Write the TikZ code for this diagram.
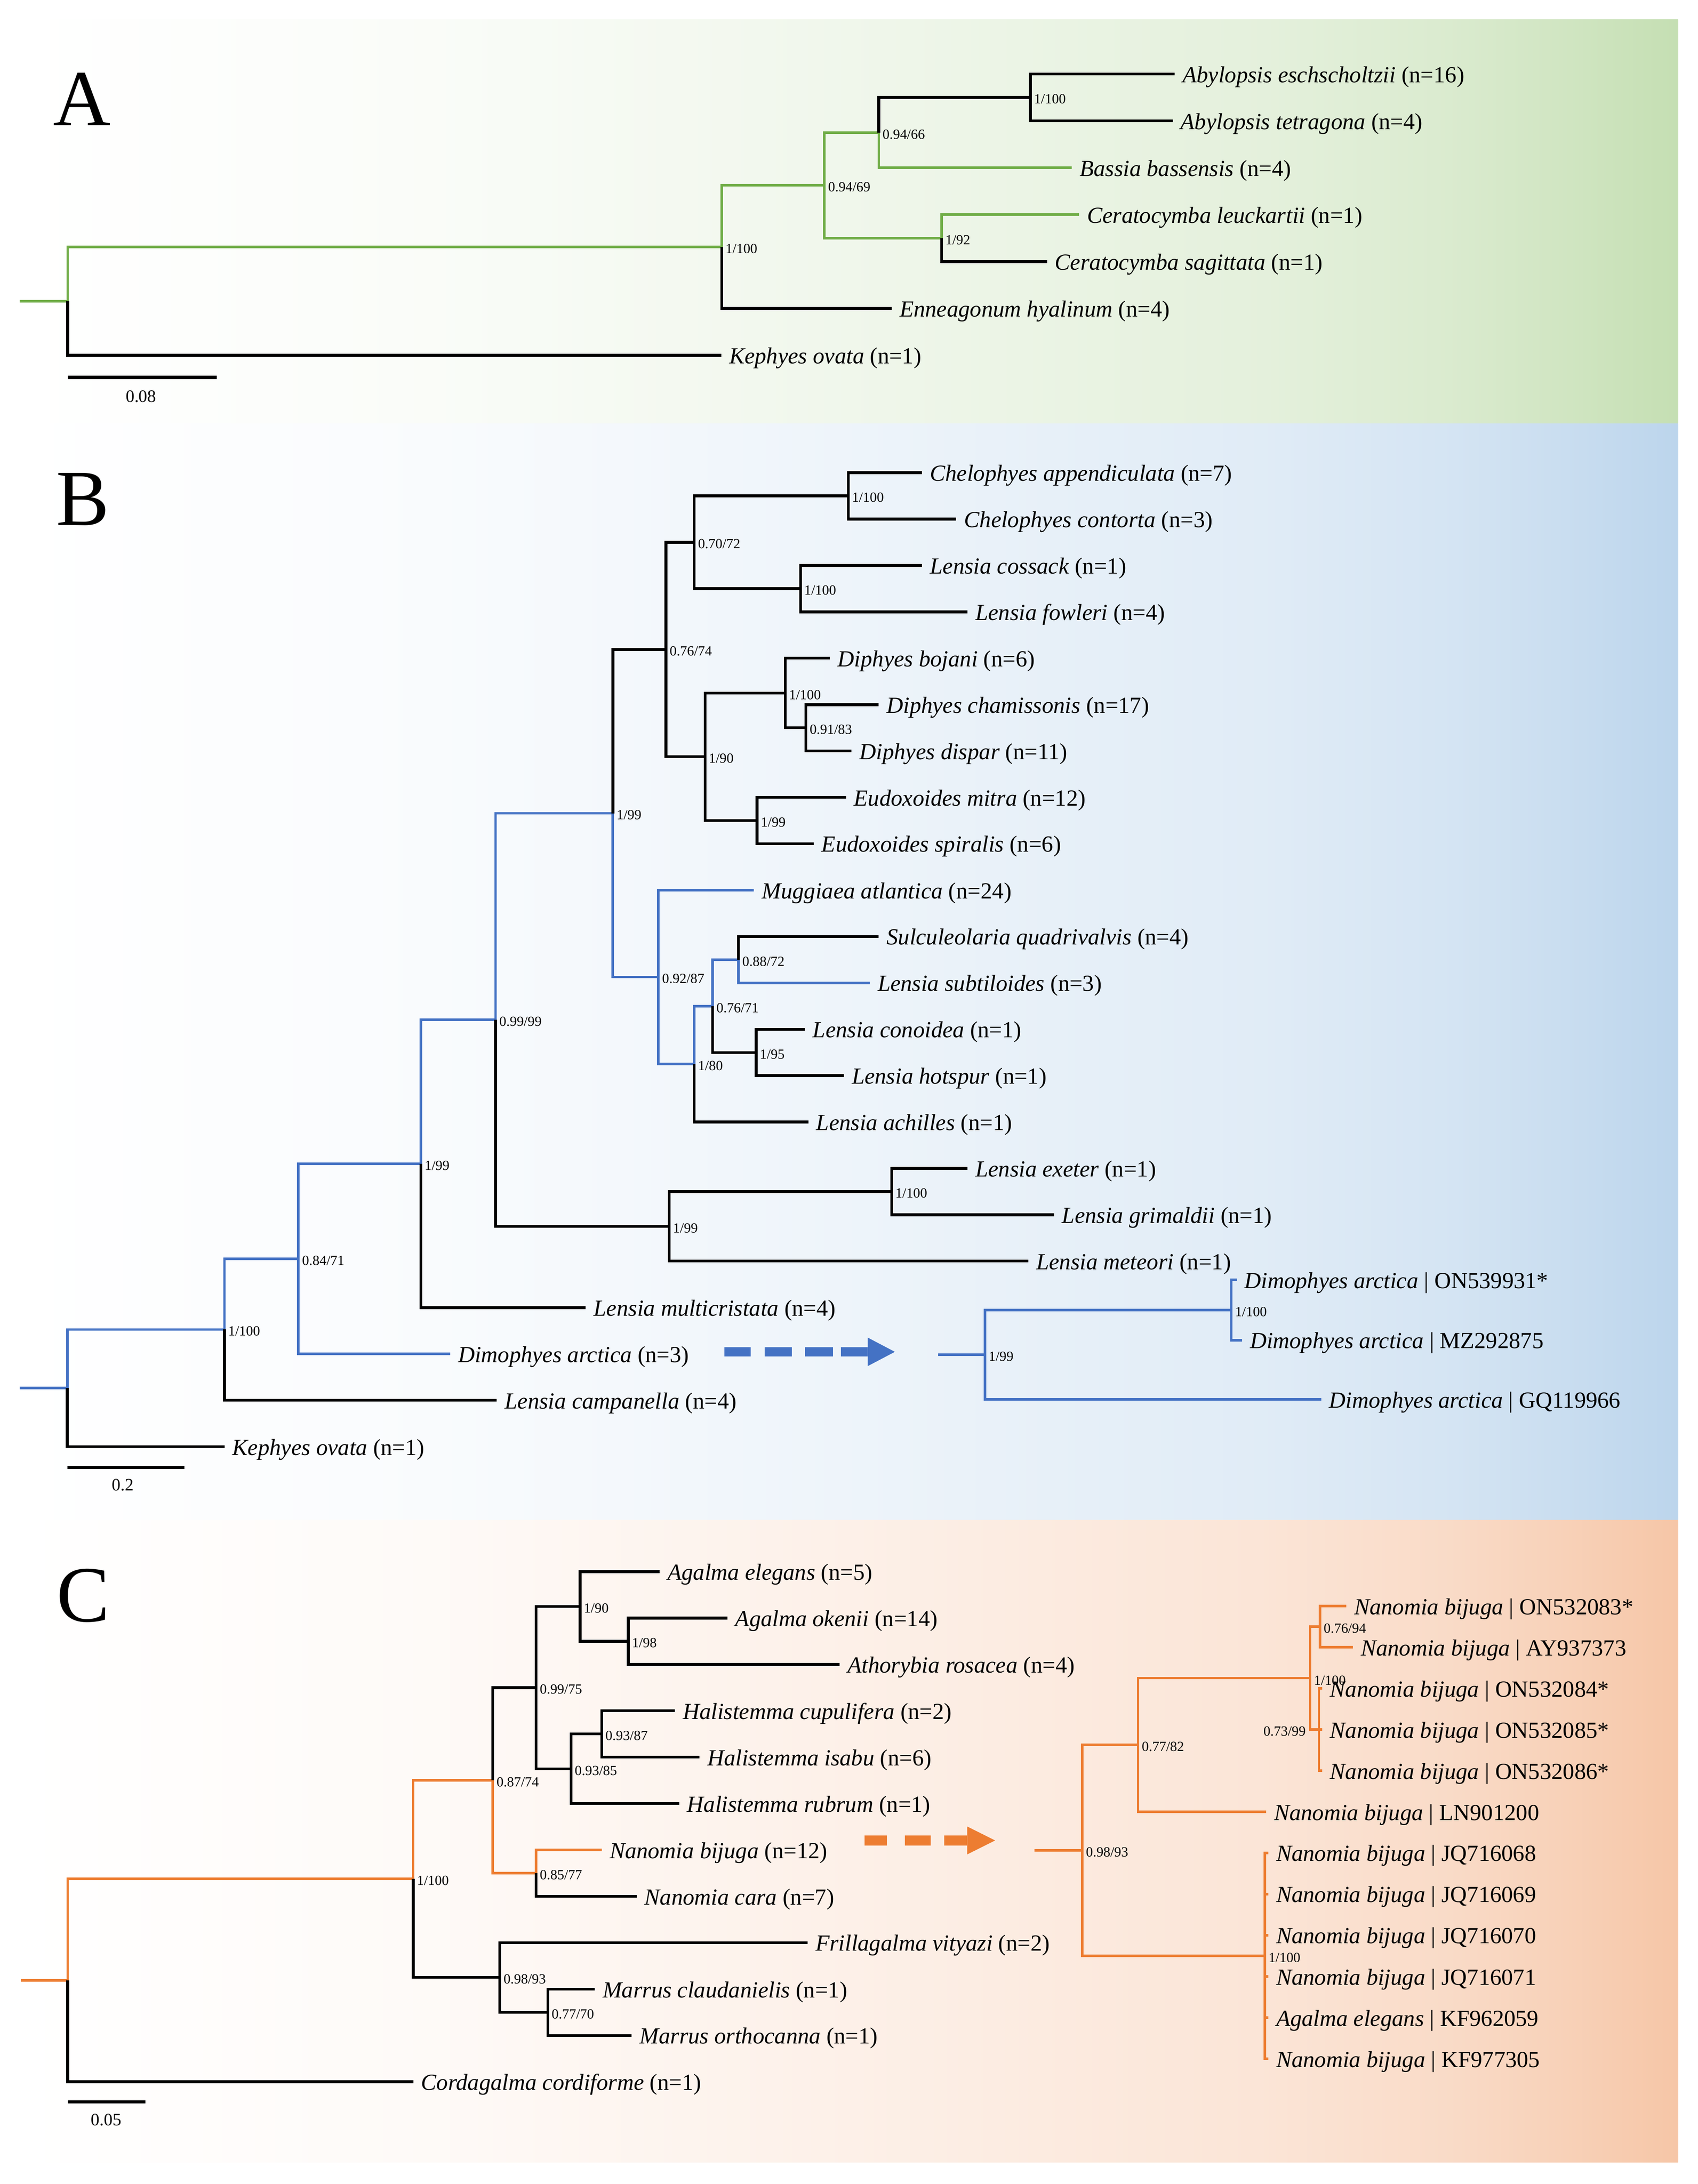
\documentclass[tikz,border=0pt]{standalone}
\usepackage{fontspec}
\setmainfont{Liberation Serif}
\usetikzlibrary{arrows.meta}

\definecolor{gEnd}{HTML}{C5DFB3}
\definecolor{bEnd}{HTML}{BCD5EC}
\definecolor{oEnd}{HTML}{F6C6A7}
\definecolor{lGreen}{HTML}{70AD47}
\definecolor{lBlue}{HTML}{4472C4}
\definecolor{lOrange}{HTML}{ED7D31}

\newcommand{\mkshade}[2]{%
  \colorlet{#1a}{#2!9!white}\colorlet{#1b}{#2!26!white}\colorlet{#1c}{#2!46!white}%
  \colorlet{#1d}{#2!63!white}\colorlet{#1e}{#2!80!white}%
  \pgfdeclarehorizontalshading{#1}{100bp}{color(0bp)=(white); color(25bp)=(white);
    color(37.5bp)=(#1a); color(50bp)=(#1b); color(62.5bp)=(#1c); color(68bp)=(#1d);
    color(71.5bp)=(#1e); color(75bp)=(#2); color(100bp)=(#2)}}
\mkshade{shA}{gEnd}
\mkshade{shB}{bEnd}
\mkshade{shC}{oEnd}

\newcommand{\brch}[3]{\draw[#1] (#2) |- (#3);}

\tikzset{
  bk/.style={draw=black,line width=2pt},
  gn/.style={draw=lGreen,line width=1.8pt},
  bl/.style={draw=lBlue,line width=1.8pt},
  og/.style={draw=lOrange,line width=1.8pt},
  tiplab/.style={anchor=base west,xshift=5.5pt,yshift=-6pt,inner sep=0pt,font=\fontsize{16.5}{19}\selectfont},
  suplab/.style={anchor=base west,xshift=2.5pt,yshift=-4.5pt,inner sep=0pt,font=\fontsize{10}{12}\selectfont},
  suplabL/.style={anchor=base east,xshift=-3pt,yshift=-4.5pt,inner sep=0pt,font=\fontsize{10}{12}\selectfont},
  panlab/.style={anchor=base west,inner sep=0pt,font=\fontsize{57}{60}\selectfont},
  scalelab/.style={anchor=base,inner sep=0pt,font=\fontsize{12.5}{14}\selectfont},
  scalebar/.style={draw=black,line width=2.4pt},
}

\begin{document}
\begin{tikzpicture}[x=1pt,y=-1pt]
\useasboundingbox (0,0) rectangle (1216,1564.86);

% ---------- backgrounds ----------
\shade[shading=shA] (14,14) rectangle (1202,303.5);
\shade[shading=shB] (14,303.5) rectangle (1202,1089.2);
\shade[shading=shC] (14,1089.2) rectangle (1202,1549.2);

% ================= PANEL A =================
\node[panlab] (pA) at (38,90) {A};
\coordinate (Ar0) at (14,215.75);
\coordinate (Ar) at (48.5,215.75);
\coordinate (An1) at (517,176.9);
\coordinate (An2) at (590.5,132.8);
\coordinate (An3) at (629.5,95);
\coordinate (An4) at (738,69.8);
\coordinate (An5) at (674.5,170.6);
\coordinate (At1) at (841.5,53);
\coordinate (At2) at (840,86.6);
\coordinate (At3) at (767.7,120.2);
\coordinate (At4) at (773,153.8);
\coordinate (At5) at (750,187.4);
\coordinate (At6) at (638.7,221);
\coordinate (At7) at (516.7,254.6);

\draw[gn] (Ar0) -- (Ar);
\brch{gn}{Ar}{An1}
\brch{bk}{Ar}{At7}
\brch{gn}{An1}{An2}
\brch{bk}{An1}{At6}
\brch{gn}{An2}{An3}
\brch{gn}{An2}{An5}
\brch{bk}{An3}{An4}
\brch{gn}{An3}{At3}
\brch{bk}{An4}{At1}
\brch{bk}{An4}{At2}
\brch{gn}{An5}{At4}
\brch{bk}{An5}{At5}

\node[tiplab] (lAt1) at (At1) {\textit{Abylopsis eschscholtzii} (n=16)};
\node[tiplab] (lAt2) at (At2) {\textit{Abylopsis tetragona} (n=4)};
\node[tiplab] (lAt3) at (At3) {\textit{Bassia bassensis} (n=4)};
\node[tiplab] (lAt4) at (At4) {\textit{Ceratocymba leuckartii} (n=1)};
\node[tiplab] (lAt5) at (At5) {\textit{Ceratocymba sagittata} (n=1)};
\node[tiplab] (lAt6) at (At6) {\textit{Enneagonum hyalinum} (n=4)};
\node[tiplab] (lAt7) at (At7) {\textit{Kephyes ovata} (n=1)};

\node[suplab] (sAn1) at (An1) {1/100};
\node[suplab] (sAn2) at (An2) {0.94/69};
\node[suplab] (sAn3) at (An3) {0.94/66};
\node[suplab] (sAn4) at (An4) {1/100};
\node[suplab] (sAn5) at (An5) {1/92};

\coordinate (sA1) at (48.5,270.5);
\coordinate (sA2) at (155.4,270.5);
\draw[scalebar] (sA1) -- (sA2);
\node[scalelab] (sAl) at (101,288) {0.08};

% ================= PANEL B =================
\node[panlab] (pB) at (40,376.3) {B};
\coordinate (Br0) at (14,994.6);
\coordinate (Br) at (48.2,994.6);
% tips
\coordinate (Bt1) at (660.5,338.7);
\coordinate (Bt2) at (685,371.9);
\coordinate (Bt3) at (660.5,405.2);
\coordinate (Bt4) at (693,438.4);
\coordinate (Bt5) at (594.4,471.6);
\coordinate (Bt6) at (629.4,504.9);
\coordinate (Bt7) at (610,538.1);
\coordinate (Bt8) at (606,571.3);
\coordinate (Bt9) at (582.8,604.5);
\coordinate (Bt10) at (540,637.8);
\coordinate (Bt11) at (629.4,671.0);
\coordinate (Bt12) at (623,704.2);
\coordinate (Bt13) at (576.5,737.5);
\coordinate (Bt14) at (604.5,770.7);
\coordinate (Bt15) at (579,803.9);
\coordinate (Bt16) at (693,837.2);
\coordinate (Bt17) at (755,870.4);
\coordinate (Bt18) at (736.6,903.6);
\coordinate (Bt19) at (419.6,936.9);
\coordinate (Bt20) at (322.5,970.1);
\coordinate (Bt21) at (355.9,1003.3);
\coordinate (Bt22) at (160.8,1036.6);
% internal nodes
\coordinate (Bchel) at (607.6,355.3);
\coordinate (Blc) at (573.4,421.8);
\coordinate (Bn7072) at (497.3,388.55);
\coordinate (Bn9183) at (577.3,521.5);
\coordinate (Bdiph) at (562.5,496.55);
\coordinate (Beud) at (542.3,587.9);
\coordinate (Bn190) at (505,542.2);
\coordinate (Bn7674) at (477,465.4);
\coordinate (Bn8872) at (529,687.6);
\coordinate (Bn195) at (541.6,754.1);
\coordinate (Bn7671) at (510.5,720.85);
\coordinate (Bn180) at (497.3,762.4);
\coordinate (Bn9287) at (471.6,700.1);
\coordinate (Bn199b) at (439,582.75);
\coordinate (Bex1) at (638.7,853.8);
\coordinate (Bex2) at (479.4,878.7);
\coordinate (Bn9999) at (355,730.7);
\coordinate (Bn199m) at (301.5,833.8);
\coordinate (Bn8471) at (213.7,901.95);
\coordinate (Bn1100) at (160.8,952.6);

\draw[bl] (Br0) -- (Br);
\brch{bl}{Br}{Bn1100}
\brch{bk}{Br}{Bt22}
\brch{bl}{Bn1100}{Bn8471}
\brch{bk}{Bn1100}{Bt21}
\brch{bl}{Bn8471}{Bn199m}
\brch{bl}{Bn8471}{Bt20}
\brch{bl}{Bn199m}{Bn9999}
\brch{bk}{Bn199m}{Bt19}
\brch{bl}{Bn9999}{Bn199b}
\brch{bk}{Bn9999}{Bex2}
\brch{bk}{Bex2}{Bex1}
\brch{bk}{Bex2}{Bt18}
\brch{bk}{Bex1}{Bt16}
\brch{bk}{Bex1}{Bt17}
\brch{bk}{Bn199b}{Bn7674}
\brch{bl}{Bn199b}{Bn9287}
\brch{bk}{Bn7674}{Bn7072}
\brch{bk}{Bn7674}{Bn190}
\brch{bk}{Bn7072}{Bchel}
\brch{bk}{Bn7072}{Blc}
\brch{bk}{Bchel}{Bt1}
\brch{bk}{Bchel}{Bt2}
\brch{bk}{Blc}{Bt3}
\brch{bk}{Blc}{Bt4}
\brch{bk}{Bn190}{Bdiph}
\brch{bk}{Bn190}{Beud}
\brch{bk}{Bdiph}{Bt5}
\brch{bk}{Bdiph}{Bn9183}
\brch{bk}{Bn9183}{Bt6}
\brch{bk}{Bn9183}{Bt7}
\brch{bk}{Beud}{Bt8}
\brch{bk}{Beud}{Bt9}
\brch{bl}{Bn9287}{Bt10}
\brch{bl}{Bn9287}{Bn180}
\brch{bl}{Bn180}{Bn7671}
\brch{bk}{Bn180}{Bt15}
\brch{bl}{Bn7671}{Bn8872}
\brch{bk}{Bn7671}{Bn195}
\brch{bk}{Bn8872}{Bt11}
\brch{bl}{Bn8872}{Bt12}
\brch{bk}{Bn195}{Bt13}
\brch{bk}{Bn195}{Bt14}

\node[tiplab] (lBt1) at (Bt1) {\textit{Chelophyes appendiculata} (n=7)};
\node[tiplab] (lBt2) at (Bt2) {\textit{Chelophyes contorta} (n=3)};
\node[tiplab] (lBt3) at (Bt3) {\textit{Lensia cossack} (n=1)};
\node[tiplab] (lBt4) at (Bt4) {\textit{Lensia fowleri} (n=4)};
\node[tiplab] (lBt5) at (Bt5) {\textit{Diphyes bojani} (n=6)};
\node[tiplab] (lBt6) at (Bt6) {\textit{Diphyes chamissonis} (n=17)};
\node[tiplab] (lBt7) at (Bt7) {\textit{Diphyes dispar} (n=11)};
\node[tiplab] (lBt8) at (Bt8) {\textit{Eudoxoides mitra} (n=12)};
\node[tiplab] (lBt9) at (Bt9) {\textit{Eudoxoides spiralis} (n=6)};
\node[tiplab] (lBt10) at (Bt10) {\textit{Muggiaea atlantica} (n=24)};
\node[tiplab] (lBt11) at (Bt11) {\textit{Sulculeolaria quadrivalvis} (n=4)};
\node[tiplab] (lBt12) at (Bt12) {\textit{Lensia subtiloides} (n=3)};
\node[tiplab] (lBt13) at (Bt13) {\textit{Lensia conoidea} (n=1)};
\node[tiplab] (lBt14) at (Bt14) {\textit{Lensia hotspur} (n=1)};
\node[tiplab] (lBt15) at (Bt15) {\textit{Lensia achilles} (n=1)};
\node[tiplab] (lBt16) at (Bt16) {\textit{Lensia exeter} (n=1)};
\node[tiplab] (lBt17) at (Bt17) {\textit{Lensia grimaldii} (n=1)};
\node[tiplab] (lBt18) at (Bt18) {\textit{Lensia meteori} (n=1)};
\node[tiplab] (lBt19) at (Bt19) {\textit{Lensia multicristata} (n=4)};
\node[tiplab] (lBt20) at (Bt20) {\textit{Dimophyes arctica} (n=3)};
\node[tiplab] (lBt21) at (Bt21) {\textit{Lensia campanella} (n=4)};
\node[tiplab] (lBt22) at (Bt22) {\textit{Kephyes ovata} (n=1)};

\node[suplab] (sBchel) at (Bchel) {1/100};
\node[suplab] (sBlc) at (Blc) {1/100};
\node[suplab] (sB7072) at (Bn7072) {0.70/72};
\node[suplab] (sB9183) at (Bn9183) {0.91/83};
\node[suplab] (sBdiph) at (Bdiph) {1/100};
\node[suplab] (sBeud) at (Beud) {1/99};
\node[suplab] (sB190) at (Bn190) {1/90};
\node[suplab] (sB7674) at (Bn7674) {0.76/74};
\node[suplab] (sB8872) at (Bn8872) {0.88/72};
\node[suplab] (sB195) at (Bn195) {1/95};
\node[suplab] (sB7671) at (Bn7671) {0.76/71};
\node[suplab] (sB180) at (Bn180) {1/80};
\node[suplab] (sB9287) at (Bn9287) {0.92/87};
\node[suplab] (sB199b) at (Bn199b) {1/99};
\node[suplab] (sBex1) at (Bex1) {1/100};
\node[suplab] (sBex2) at (Bex2) {1/99};
\node[suplab] (sB9999) at (Bn9999) {0.99/99};
\node[suplab] (sB199m) at (Bn199m) {1/99};
\node[suplab] (sB8471) at (Bn8471) {0.84/71};
\node[suplab] (sB1100) at (Bn1100) {1/100};

\coordinate (sB1) at (48.2,1051.4);
\coordinate (sB2) at (132,1051.4);
\draw[scalebar] (sB1) -- (sB2);
\node[scalelab] (sBl) at (88,1068) {0.2};

% arrow B
\coordinate (aB1) at (519,968.6);
\coordinate (aB2) at (641,968.6);
\draw[draw=lBlue,line width=6.5pt,
  dash pattern=on 18.7pt off 10.1pt on 19.4pt off 9.3pt on 20.2pt off 5.5pt on 40pt off 1pt,
  -{Triangle[length=19.4pt,width=20.4pt,line width=0pt]}] (aB1) -- (aB2);

% inset B
\coordinate (BIr0) at (672,970.65);
\coordinate (BIr) at (705.5,970.65);
\coordinate (BIn) at (882,938.6);
\coordinate (BIt1) at (885.8,917);
\coordinate (BIt2) at (889.7,960.2);
\coordinate (BIt3) at (946.4,1002.7);
\draw[bl] (BIr0) -- (BIr);
\brch{bl}{BIr}{BIn}
\brch{bl}{BIr}{BIt3}
\brch{bl}{BIn}{BIt1}
\brch{bl}{BIn}{BIt2}
\node[tiplab] (lBIt1) at (BIt1) {\textit{Dimophyes arctica} | ON539931*};
\node[tiplab] (lBIt2) at (BIt2) {\textit{Dimophyes arctica} | MZ292875};
\node[tiplab] (lBIt3) at (BIt3) {\textit{Dimophyes arctica} | GQ119966};
\node[suplab] (sBIr) at (BIr) {1/99};
\node[suplab] (sBIn) at (BIn) {1/100};

% ================= PANEL C =================
\node[panlab] (pC) at (40.5,1162) {C};
\coordinate (Cr0) at (15,1418.9);
\coordinate (Cr) at (48.5,1418.9);
\coordinate (Ct1) at (472.5,1126.1);
\coordinate (Ct2) at (521,1159.3);
\coordinate (Ct3) at (601.5,1192.6);
\coordinate (Ct4) at (483.5,1225.8);
\coordinate (Ct5) at (501,1259.0);
\coordinate (Ct6) at (486.5,1292.3);
\coordinate (Ct7) at (431,1325.5);
\coordinate (Ct8) at (456,1358.7);
\coordinate (Ct9) at (578.5,1391.9);
\coordinate (Ct10) at (426,1425.2);
\coordinate (Ct11) at (452.5,1458.4);
\coordinate (Ct12) at (296,1491.6);
\coordinate (Cn198) at (450,1175.95);
\coordinate (Cn190) at (415.5,1151.05);
\coordinate (Cn9387) at (431,1242.4);
\coordinate (Cn9385) at (409,1267.35);
\coordinate (Cn9975) at (384,1209.2);
\coordinate (Cn8577) at (384,1342.1);
\coordinate (Cn8774) at (353,1275.65);
\coordinate (Cn7770) at (392.5,1441.8);
\coordinate (Cn9893) at (358,1416.85);
\coordinate (Cn1100) at (296,1346.25);

\draw[og] (Cr0) -- (Cr);
\brch{og}{Cr}{Cn1100}
\brch{bk}{Cr}{Ct12}
\brch{og}{Cn1100}{Cn8774}
\brch{bk}{Cn1100}{Cn9893}
\brch{bk}{Cn8774}{Cn9975}
\brch{og}{Cn8774}{Cn8577}
\brch{og}{Cn8577}{Ct7}
\brch{bk}{Cn8577}{Ct8}
\brch{bk}{Cn9975}{Cn190}
\brch{bk}{Cn9975}{Cn9385}
\brch{bk}{Cn190}{Ct1}
\brch{bk}{Cn190}{Cn198}
\brch{bk}{Cn198}{Ct2}
\brch{bk}{Cn198}{Ct3}
\brch{bk}{Cn9385}{Cn9387}
\brch{bk}{Cn9385}{Ct6}
\brch{bk}{Cn9387}{Ct4}
\brch{bk}{Cn9387}{Ct5}
\brch{bk}{Cn9893}{Ct9}
\brch{bk}{Cn9893}{Cn7770}
\brch{bk}{Cn7770}{Ct10}
\brch{bk}{Cn7770}{Ct11}

\node[tiplab] (lCt1) at (Ct1) {\textit{Agalma elegans} (n=5)};
\node[tiplab] (lCt2) at (Ct2) {\textit{Agalma okenii} (n=14)};
\node[tiplab] (lCt3) at (Ct3) {\textit{Athorybia rosacea} (n=4)};
\node[tiplab] (lCt4) at (Ct4) {\textit{Halistemma cupulifera} (n=2)};
\node[tiplab] (lCt5) at (Ct5) {\textit{Halistemma isabu} (n=6)};
\node[tiplab] (lCt6) at (Ct6) {\textit{Halistemma rubrum} (n=1)};
\node[tiplab] (lCt7) at (Ct7) {\textit{Nanomia bijuga} (n=12)};
\node[tiplab] (lCt8) at (Ct8) {\textit{Nanomia cara} (n=7)};
\node[tiplab] (lCt9) at (Ct9) {\textit{Frillagalma vityazi} (n=2)};
\node[tiplab] (lCt10) at (Ct10) {\textit{Marrus claudanielis} (n=1)};
\node[tiplab] (lCt11) at (Ct11) {\textit{Marrus orthocanna} (n=1)};
\node[tiplab] (lCt12) at (Ct12) {\textit{Cordagalma cordiforme} (n=1)};

\node[suplab] (sC198) at (Cn198) {1/98};
\node[suplab] (sC190) at (Cn190) {1/90};
\node[suplab] (sC9387) at (Cn9387) {0.93/87};
\node[suplab] (sC9385) at (Cn9385) {0.93/85};
\node[suplab] (sC9975) at (Cn9975) {0.99/75};
\node[suplab] (sC8577) at (Cn8577) {0.85/77};
\node[suplab] (sC8774) at (Cn8774) {0.87/74};
\node[suplab] (sC7770) at (Cn7770) {0.77/70};
\node[suplab] (sC9893) at (Cn9893) {0.98/93};
\node[suplab] (sC1100) at (Cn1100) {1/100};

\coordinate (sC1) at (48.5,1506);
\coordinate (sC2) at (104,1506);
\draw[scalebar] (sC1) -- (sC2);
\node[scalelab] (sCl) at (76,1523) {0.05};

% arrow C
\coordinate (aC1) at (619.2,1318.7);
\coordinate (aC2) at (712.8,1318.7);
\draw[draw=lOrange,line width=7pt,
  dash pattern=on 16pt off 13.1pt on 18.5pt off 9.5pt on 40pt off 1pt,
  -{Triangle[length=20pt,width=20pt,line width=0pt]}] (aC1) -- (aC2);

% inset C
\coordinate (CIr0) at (741,1325.8);
\coordinate (CIr) at (775.2,1325.8);
\coordinate (CIa) at (815.2,1250.25);
\coordinate (CIb) at (938.5,1202.3);
\coordinate (CIc) at (945.5,1165.45);
\coordinate (CId) at (944.8,1239.2);
\coordinate (CIp) at (906,1401.35);
\coordinate (CIt1) at (964.4,1150.7);
\coordinate (CIt2) at (969.1,1180.2);
\coordinate (CIt3) at (947,1209.7);
\coordinate (CIt4) at (947,1239.2);
\coordinate (CIt5) at (947,1268.7);
\coordinate (CIt6) at (907,1298.2);
\coordinate (CIt7) at (908.5,1327.6);
\coordinate (CIt8) at (908.5,1357.1);
\coordinate (CIt9) at (908.5,1386.6);
\coordinate (CIt10) at (908.5,1416.1);
\coordinate (CIt11) at (908.5,1445.6);
\coordinate (CIt12) at (908.5,1475.1);

\draw[og] (CIr0) -- (CIr);
\brch{og}{CIr}{CIa}
\brch{og}{CIr}{CIp}
\brch{og}{CIa}{CIb}
\brch{og}{CIa}{CIt6}
\brch{og}{CIb}{CIc}
\brch{og}{CIb}{CId}
\brch{og}{CIc}{CIt1}
\brch{og}{CIc}{CIt2}
\brch{og}{CId}{CIt3}
\brch{og}{CId}{CIt4}
\brch{og}{CId}{CIt5}
\brch{og}{CIp}{CIt7}
\brch{og}{CIp}{CIt8}
\brch{og}{CIp}{CIt9}
\brch{og}{CIp}{CIt10}
\brch{og}{CIp}{CIt11}
\brch{og}{CIp}{CIt12}

\node[tiplab] (lCIt1) at (CIt1) {\textit{Nanomia bijuga} | ON532083*};
\node[tiplab] (lCIt2) at (CIt2) {\textit{Nanomia bijuga} | AY937373};
\node[tiplab] (lCIt3) at (CIt3) {\textit{Nanomia bijuga} | ON532084*};
\node[tiplab] (lCIt4) at (CIt4) {\textit{Nanomia bijuga} | ON532085*};
\node[tiplab] (lCIt5) at (CIt5) {\textit{Nanomia bijuga} | ON532086*};
\node[tiplab] (lCIt6) at (CIt6) {\textit{Nanomia bijuga} | LN901200};
\node[tiplab] (lCIt7) at (CIt7) {\textit{Nanomia bijuga} | JQ716068};
\node[tiplab] (lCIt8) at (CIt8) {\textit{Nanomia bijuga} | JQ716069};
\node[tiplab] (lCIt9) at (CIt9) {\textit{Nanomia bijuga} | JQ716070};
\node[tiplab] (lCIt10) at (CIt10) {\textit{Nanomia bijuga} | JQ716071};
\node[tiplab] (lCIt11) at (CIt11) {\textit{Agalma elegans} | KF962059};
\node[tiplab] (lCIt12) at (CIt12) {\textit{Nanomia bijuga} | KF977305};

\node[suplab] (sCIr) at (CIr) {0.98/93};
\node[suplab] (sCIa) at (CIa) {0.77/82};
\node[suplab,yshift=-0.5pt] (sCIb) at (CIb) {1/100};
\node[suplab] (sCIc) at (CIc) {0.76/94};
\node[suplabL] (sCId) at (CIb |- CId) {0.73/99};
\node[suplab] (sCIp) at (CIp) {1/100};

\end{tikzpicture}
\end{document}
